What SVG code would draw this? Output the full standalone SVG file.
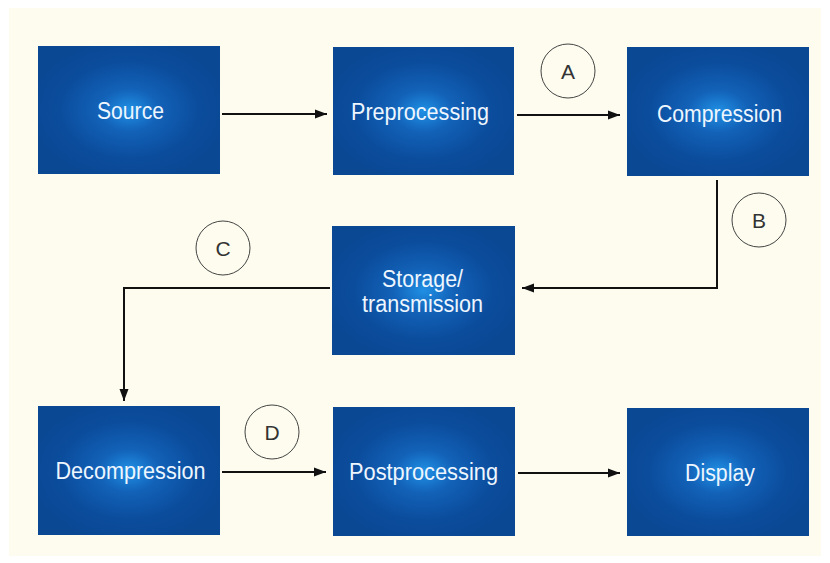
<svg xmlns="http://www.w3.org/2000/svg" width="830" height="563" viewBox="0 0 830 563">
<defs>
<radialGradient id="glow" cx="50%" cy="50%" r="55%">
<stop offset="0" stop-color="#2090e4"/>
<stop offset="0.3" stop-color="#1262b8"/>
<stop offset="0.7" stop-color="#0b4c9c"/>
<stop offset="1" stop-color="#0a4894"/>
</radialGradient>
<marker id="arr" markerWidth="13" markerHeight="11" refX="12" refY="5.5" orient="auto" markerUnits="userSpaceOnUse">
<path d="M0,1 L12,5.5 L0,10 Z" fill="#111"/>
</marker>
<style>
.box{fill:url(#glow);}
.lbl{font-family:"Liberation Sans",Arial,sans-serif;font-size:23px;fill:#eef6ff;text-anchor:middle;}
.conn{fill:none;stroke:#111;stroke-width:2;marker-end:url(#arr);}
.circ{fill:none;stroke:#444;stroke-width:1;}
.tag{font-family:"Liberation Sans",Arial,sans-serif;font-size:21px;fill:#333;text-anchor:middle;}
</style>
</defs>
<rect x="0" y="0" width="830" height="563" fill="#ffffff"/>
<rect x="9" y="8" width="812" height="548" fill="#fdfcef"/>
<g id="connectors">
<path class="conn" d="M222,114 L327,114"/>
<path class="conn" d="M517,115 L620,115"/>
<path class="conn" d="M717,180 L717,288 L522,288"/>
<path class="conn" d="M330,288 L124,288 L124,401"/>
<path class="conn" d="M222,472 L326,472"/>
<path class="conn" d="M518,473 L620,473"/>
</g>
<g id="source"><rect class="box" x="38" y="46" width="182" height="128"/><text class="lbl" x="130.5" y="119" textLength="67" lengthAdjust="spacingAndGlyphs">Source</text></g>
<g id="preprocessing"><rect class="box" x="333" y="47" width="181" height="128"/><text class="lbl" x="420" y="120" textLength="138" lengthAdjust="spacingAndGlyphs">Preprocessing</text></g>
<g id="compression"><rect class="box" x="627" y="47" width="182" height="129"/><text class="lbl" x="719.5" y="122" textLength="125" lengthAdjust="spacingAndGlyphs">Compression</text></g>
<g id="storage"><rect class="box" x="332" y="226" width="183" height="129"/><text class="lbl" x="422.5" y="287" textLength="81" lengthAdjust="spacingAndGlyphs">Storage/</text><text class="lbl" x="422.5" y="312" textLength="121" lengthAdjust="spacingAndGlyphs">transmission</text></g>
<g id="decompression"><rect class="box" x="38" y="406" width="182" height="129"/><text class="lbl" x="130.5" y="479" textLength="150" lengthAdjust="spacingAndGlyphs">Decompression</text></g>
<g id="postprocessing"><rect class="box" x="333" y="407" width="182" height="129"/><text class="lbl" x="423.5" y="480" textLength="149" lengthAdjust="spacingAndGlyphs">Postprocessing</text></g>
<g id="display"><rect class="box" x="627" y="408" width="182" height="128"/><text class="lbl" x="720" y="481" textLength="70" lengthAdjust="spacingAndGlyphs">Display</text></g>
<g id="tagA"><circle class="circ" cx="568" cy="71" r="27"/><text class="tag" x="568" y="79">A</text></g>
<g id="tagB"><circle class="circ" cx="759" cy="220" r="27"/><text class="tag" x="759" y="228">B</text></g>
<g id="tagC"><circle class="circ" cx="223" cy="248" r="27"/><text class="tag" x="223" y="256">C</text></g>
<g id="tagD"><circle class="circ" cx="272" cy="432" r="27"/><text class="tag" x="272" y="440">D</text></g>
</svg>
